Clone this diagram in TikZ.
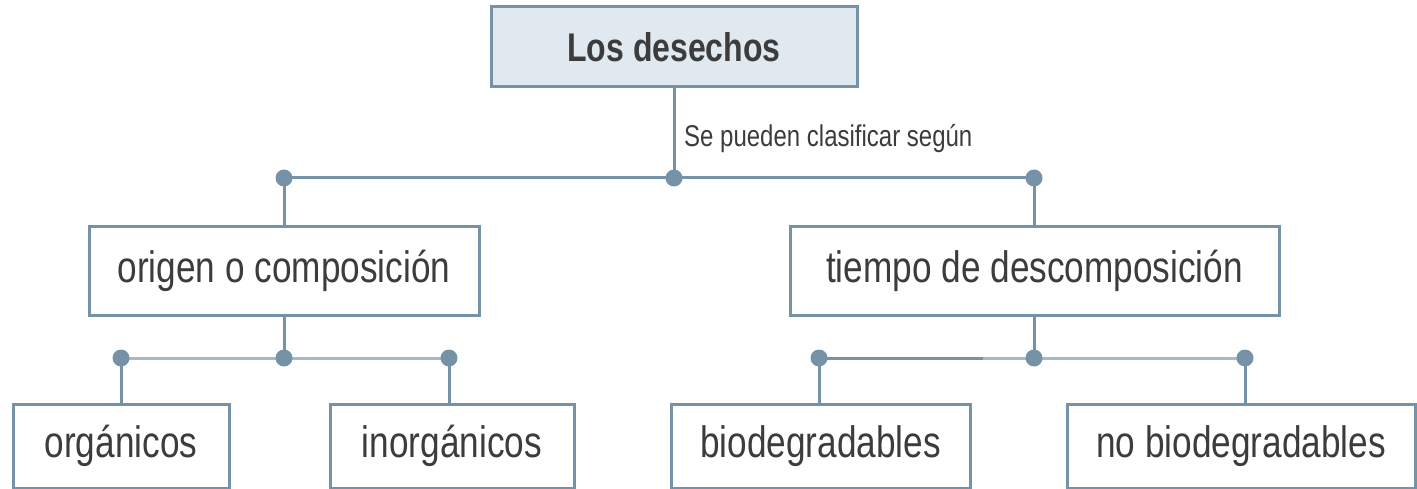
\documentclass[tikz,border=0pt]{standalone}
\usepackage{fontspec}
\setmainfont[FakeStretch=0.8]{Liberation Sans}
\definecolor{lineC}{HTML}{7592A6}
\definecolor{lightC}{HTML}{A9B9C5}
\definecolor{topC}{HTML}{E0E9EF}
\definecolor{txtC}{HTML}{3C3C3C}
\begin{document}
\begin{tikzpicture}[x=1pt,y=-1pt,
  box/.style={draw=lineC, line width=3pt, fill=white, inner sep=0pt, text=txtC,
    font=\fontsize{44}{50}\selectfont},
  dot/.style={circle, fill=lineC, inner sep=0pt, minimum size=17pt},
  conn/.style={draw=lineC, line width=3pt},
  lightconn/.style={draw=lightC, line width=3pt}]
\useasboundingbox (0,0) rectangle (1417,489);
% boxes
\node[box, fill=topC, minimum width=366pt, minimum height=80pt,
  font=\bfseries\fontsize{40}{48}\selectfont] (top) at (674,47) {Los desechos};
\node[box, minimum width=390pt, minimum height=88pt] (origen) at (284,271) {origen o composición};
\node[box, minimum width=489pt, minimum height=88pt] (tiempo) at (1034.5,271) {tiempo de descomposición};
\node[box, minimum width=216pt, minimum height=84pt] (org) at (121,446) {orgánicos};
\node[box, minimum width=244pt, minimum height=84pt] (inorg) at (452,446) {inorgánicos};
\node[box, minimum width=299pt, minimum height=84pt] (bio) at (820.5,446) {biodegradables};
\node[box, minimum width=348pt, minimum height=84pt] (nobio) at (1241,446) {no biodegradables};
% junction points
\coordinate (t1) at (284,178);
\coordinate (t2) at (674,178);
\coordinate (t3) at (1034,178);
\coordinate (a1) at (121,358);
\coordinate (a2) at (284,358);
\coordinate (a3) at (449,358);
\coordinate (b1) at (819,358);
\coordinate (bm) at (983,358);
\coordinate (b2) at (1034,358);
\coordinate (b3) at (1245,358);
% connectors
\draw[conn] (top.south) -- (t2);
\draw[conn] (t1) -- (t3);
\draw[conn] (t1) -- (origen.north -| t1);
\draw[conn] (t3) -- (tiempo.north -| t3);
\draw[conn] (origen.south -| a2) -- (a2);
\draw[lightconn] (a1) -- (a3);
\draw[conn] (a1) -- (org.north -| a1);
\draw[conn] (a3) -- (inorg.north -| a3);
\draw[conn] (tiempo.south -| b2) -- (b2);
\draw[conn] (b1) -- (bm);
\draw[lightconn] (bm) -- (b3);
\draw[conn] (b1) -- (bio.north -| b1);
\draw[conn] (b3) -- (nobio.north -| b3);
% dots
\foreach \p in {t1,t2,t3,a1,a2,a3,b1,b2,b3} \node[dot] (d\p) at (\p) {};
% label
\node[anchor=west, inner sep=0pt, text=txtC, font=\fontsize{30}{36}\selectfont] (lbl) at (684,139) {Se pueden clasificar según};
\end{tikzpicture}
\end{document}
